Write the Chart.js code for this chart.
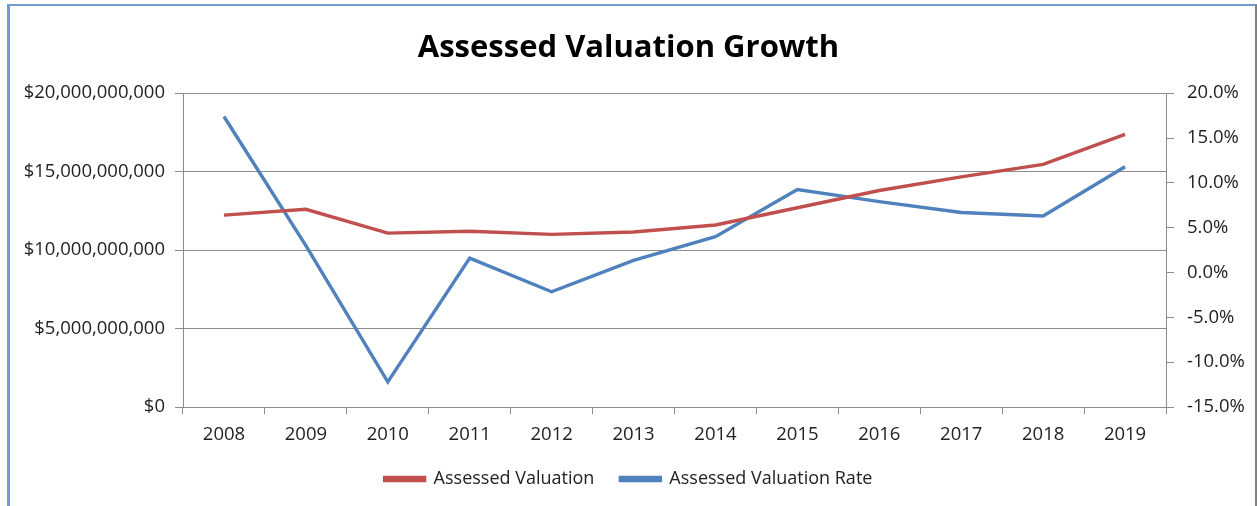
<!DOCTYPE html>
<html>
<head>
<meta charset="utf-8">
<title>Assessed Valuation Growth</title>
<script src="https://cdn.jsdelivr.net/npm/chart.js@4.4.0/dist/chart.umd.min.js"></script>
<style>
  html, body { margin: 0; padding: 0; background: #ffffff; overflow: hidden; }
  #wrap { position: relative; width: 1257px; height: 506px; }
  #chart { position: absolute; left: 0; top: 0; }
  /* frame around the chart, cut off at the bottom like the original */
  #frame {
    position: absolute; left: 7px; top: 4px; width: 1245px; height: 520px;
    border-top: 2px solid #6f9bd1; border-left: 3px solid #6f9bd1;
    border-right: 2px solid #808080; pointer-events: none;
  }
</style>
</head>
<body>
<div id="wrap">
  <canvas id="chart" width="1257" height="506"></canvas>
  <div id="frame"></div>
</div>
<script>
// Chart data
const years = ['2008', '2009', '2010', '2011', '2012', '2013', '2014', '2015', '2016', '2017', '2018', '2019'];
const valuation = [12.23e9, 12.6e9, 11.08e9, 11.2e9, 11.0e9, 11.15e9, 11.6e9, 12.7e9, 13.8e9, 14.67e9, 15.46e9, 17.37e9];
const valuationRate = [17.4, 3.0, -12.2, 1.6, -2.15, 1.35, 4.0, 9.25, 7.9, 6.7, 6.3, 11.8];

const leftTicks = [0, 5e9, 10e9, 15e9, 20e9];
const rightTicks = [-15, -10, -5, 0, 5, 10, 15, 20];

const gridColor = '#8c8c8c';
const textColor = '#222222';
const fontFamily = "'Open Sans', 'Liberation Sans', sans-serif";

function money(v) {
    return '$' + Math.round(v).toLocaleString('en-US');
}

const ctx = document.getElementById('chart');

new Chart(ctx, {
    type: 'line',
    data: {
        labels: years,
        datasets: [
            {
                label: 'Assessed Valuation',
                data: valuation,
                yAxisID: 'y',
                borderColor: '#c0504d',
                backgroundColor: '#c0504d',
                borderWidth: 3.4,
                pointRadius: 0,
                tension: 0
            },
            {
                label: 'Assessed Valuation Rate',
                data: valuationRate,
                yAxisID: 'y2',
                borderColor: '#4f81bd',
                backgroundColor: '#4f81bd',
                borderWidth: 3.4,
                pointRadius: 0,
                tension: 0
            }
        ]
    },
    options: {
        responsive: false,
        animation: false,
        layout: { padding: { left: 0, right: 0, top: 30, bottom: 8 } },
        plugins: {
            title: {
                display: true,
                text: 'Assessed Valuation Growth',
                color: '#000000',
                font: { family: fontFamily, size: 31, weight: 'bold' },
                padding: { top: 0, bottom: 26 }
            },
            legend: {
                position: 'bottom',
                labels: {
                    color: textColor,
                    font: { family: fontFamily, size: 18 },
                    boxWidth: 40,
                    boxHeight: 3,
                    padding: 26
                }
            },
            tooltip: { enabled: false }
        },
        scales: {
            x: {
                offset: true,
                grid: {
                    offset: true,
                    drawOnChartArea: false,
                    drawTicks: true,
                    tickLength: 7,
                    color: gridColor
                },
                border: { color: gridColor, width: 1 },
                ticks: {
                    color: textColor,
                    font: { family: fontFamily, size: 18.5 },
                    padding: 10,
                    maxRotation: 0
                },
                afterFit: function(scale) { scale.height = 37; }
            },
            y: {
                position: 'left',
                min: 0,
                max: 20e9,
                afterBuildTicks: function(scale) {
                    scale.ticks = leftTicks.map(v => ({ value: v }));
                },
                grid: { color: gridColor, tickLength: 8 },
                border: { color: gridColor, width: 1 },
                ticks: {
                    color: textColor,
                    font: { family: fontFamily, size: 18.5 },
                    padding: 10,
                    callback: function(v) { return money(v); }
                },
                afterFit: function(scale) { scale.width = 183; }
            },
            y2: {
                position: 'right',
                min: -15,
                max: 20,
                afterBuildTicks: function(scale) {
                    scale.ticks = rightTicks.map(v => ({ value: v }));
                },
                grid: { drawOnChartArea: false, color: gridColor, tickLength: 8 },
                border: { color: gridColor, width: 1 },
                ticks: {
                    color: textColor,
                    font: { family: fontFamily, size: 18.5 },
                    padding: 13,
                    callback: function(v) { return v.toFixed(1) + '%'; }
                },
                afterFit: function(scale) { scale.width = 91; }
            }
        }
    }
});
</script>
</body>
</html>
